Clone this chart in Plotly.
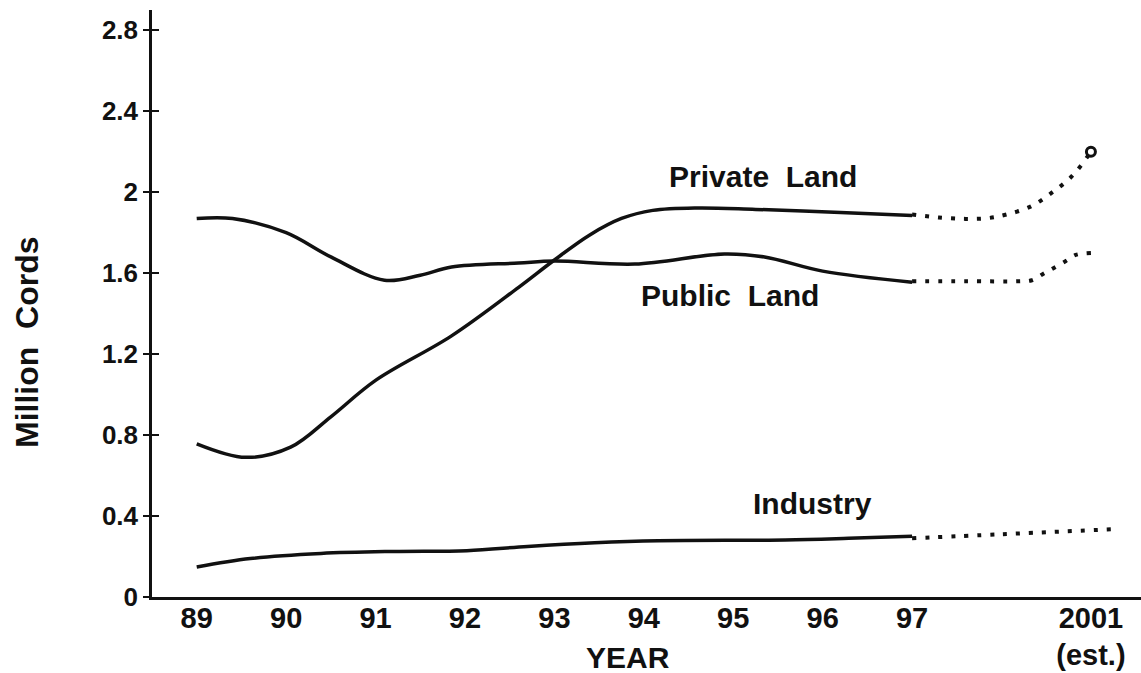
import plotly.graph_objects as go

# ---- data ----
# x is the position on the year axis (89..97 = 1989..1997, 99 = 2001 est.)
tick_vals = [89, 90, 91, 92, 93, 94, 95, 96, 97, 99]
tick_text = ["89", "90", "91", "92", "93", "94", "95", "96", "97", "2001<br>(est.)"]
y_ticks = [0, 0.4, 0.8, 1.2, 1.6, 2.0, 2.4, 2.8]
y_tick_text = ["0", "0.4", "0.8", "1.2", "1.6", "2", "2.4", "2.8"]

public_x = [89.0, 89.4, 90.0, 90.5, 91.1, 91.5, 91.85, 92.6, 93.0, 93.9, 94.9, 95.35, 96.0, 97.0]
public_y = [1.87, 1.87, 1.80, 1.68, 1.565, 1.59, 1.63, 1.65, 1.66, 1.645, 1.695, 1.68, 1.61, 1.555]
public_proj_x = [97.0, 97.6, 98.2, 98.34, 98.46, 98.59, 98.72, 98.83, 99.0]
public_proj_y = [1.56, 1.56, 1.56, 1.565, 1.595, 1.627, 1.66, 1.69, 1.70]

private_x = [89.0, 89.55, 90.05, 90.5, 91.0, 91.85, 92.6, 93.0, 93.4, 93.75, 94.1, 94.6, 95.25, 96.2, 97.0]
private_y = [0.757, 0.69, 0.74, 0.89, 1.07, 1.29, 1.53, 1.665, 1.79, 1.87, 1.91, 1.922, 1.915, 1.90, 1.885]
private_proj_x = [97.0, 97.3, 97.6, 97.85, 98.06, 98.33, 98.57, 98.79, 99.0]
private_proj_y = [1.89, 1.875, 1.868, 1.872, 1.89, 1.93, 2.0, 2.08, 2.2]

industry_x = [89.0, 89.6, 90.39, 91.2, 92.02, 92.7, 93.45, 94.16, 95.58, 96.29, 97.0]
industry_y = [0.148, 0.19, 0.215, 0.225, 0.229, 0.25, 0.268, 0.278, 0.282, 0.29, 0.30]
industry_proj_x = [97.0, 98.0, 99.25]
industry_proj_y = [0.29, 0.31, 0.335]

labels = ["Private\u00a0\u00a0Land", "Public\u00a0\u00a0Land", "Industry"]
label_x = [95.33, 94.96, 95.89]
label_y = [2.075, 1.49, 0.46]

# ---- figure ----
W, H = 1141, 673
ML, MR, MT, MB = 152, 0, 10, 76
FONT = "Liberation Sans, Arial, sans-serif"
BLACK = "#111111"

def bold(size):
    return dict(family=FONT, size=size, color=BLACK, weight="bold")

fig = go.Figure()
solid = dict(color=BLACK, width=3.5, shape="spline", smoothing=1.0)
dotted = dict(color=BLACK, width=4, dash="4px,9px", shape="spline", smoothing=1.0)

for xs, ys in [(public_x, public_y), (private_x, private_y), (industry_x, industry_y)]:
    fig.add_trace(go.Scatter(x=xs, y=ys, mode="lines", line=solid,
                             showlegend=False, hoverinfo="skip"))
for xs, ys in [(public_proj_x, public_proj_y), (private_proj_x, private_proj_y),
               (industry_proj_x, industry_proj_y)]:
    fig.add_trace(go.Scatter(x=xs, y=ys, mode="lines", line=dotted,
                             showlegend=False, hoverinfo="skip"))

# end marker on the private land projection
fig.add_trace(go.Scatter(x=[private_proj_x[-1]], y=[private_proj_y[-1]], mode="markers",
                         marker=dict(size=9, color="white", line=dict(color=BLACK, width=3)),
                         showlegend=False, hoverinfo="skip"))

for t, x, y in zip(labels, label_x, label_y):
    fig.add_annotation(x=x, y=y, text=t, showarrow=False, font=bold(30),
                       xanchor="center", yanchor="middle")

pw = W - ML - MR
ph = H - MT - MB
# axis titles as annotations (paper coordinates)
fig.add_annotation(xref="paper", yref="paper", x=(27 - ML) / pw, y=(H - MB - 342) / ph,
                   text="Million\u00a0\u00a0Cords", textangle=-90, showarrow=False,
                   font=bold(32), xanchor="center", yanchor="middle")
fig.add_annotation(xref="paper", yref="paper", x=(628 - ML) / pw, y=(H - MB - 657) / ph,
                   text="YEAR", showarrow=False, font=bold(30),
                   xanchor="center", yanchor="middle")

fig.update_layout(
    width=W, height=H,
    margin=dict(l=ML, r=MR, t=MT, b=MB),
    paper_bgcolor="white", plot_bgcolor="white",
    font=dict(family=FONT, color=BLACK),
    xaxis=dict(range=[88.5, 99.56], tickmode="array", tickvals=tick_vals, ticktext=tick_text,
               showgrid=False, zeroline=False, showline=True, linecolor=BLACK, linewidth=2.5,
               ticks="", ticklen=0, tickfont=bold(29), ticklabelstandoff=-7,
               automargin=False),
    yaxis=dict(range=[0, 2.9], tickmode="array", tickvals=y_ticks, ticktext=y_tick_text,
               showgrid=False, zeroline=False, showline=True, linecolor=BLACK, linewidth=2.5,
               ticks="outside", ticklen=6, tickwidth=2, tickcolor=BLACK,
               tickfont=bold(26), automargin=False),
    yaxis2=dict(range=[0, 2.9], overlaying="y", side="left", anchor="x",
                tickmode="array", tickvals=y_ticks, showticklabels=False,
                showgrid=False, zeroline=False, showline=False,
                ticks="inside", ticklen=7, tickwidth=2, tickcolor=BLACK, automargin=False),
)
# dummy trace to activate yaxis2
fig.add_trace(go.Scatter(x=[None], y=[None], yaxis="y2", showlegend=False, hoverinfo="skip"))

fig.write_html("out.html", config={"displayModeBar": False},
               post_script="document.body.style.margin='0px';document.body.style.overflow='hidden';")
